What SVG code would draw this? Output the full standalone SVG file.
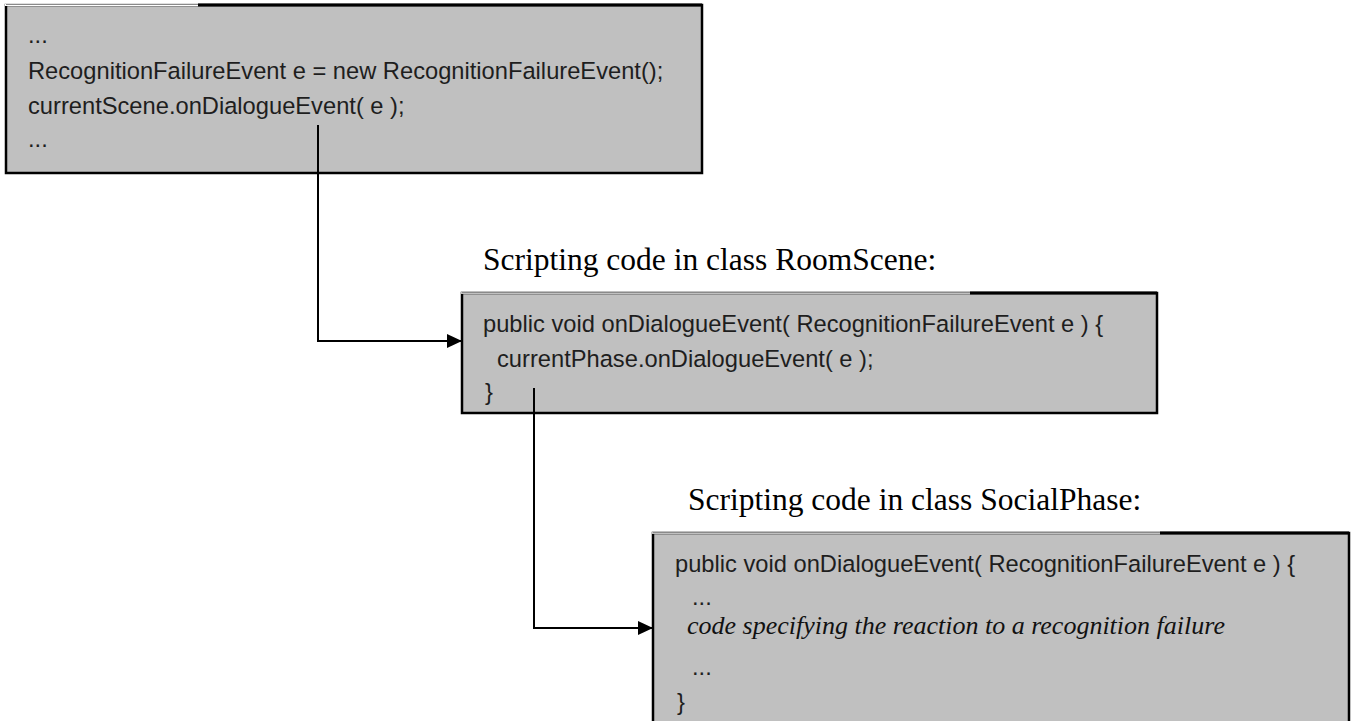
<svg xmlns="http://www.w3.org/2000/svg" width="1351" height="721" viewBox="0 0 1351 721">
  <style>
    .box { fill: #c0c0c0; stroke: #000; stroke-width: 2.5; }
    .edge-thin { stroke: #8a8a8a; stroke-width: 1; }
    .code { font-family: "Liberation Sans", Arial, sans-serif; font-size: 23.7px; fill: #1e1e1e; }
    .note { font-family: "Liberation Serif", "Times New Roman", serif; font-size: 26px; font-style: italic; fill: #111; }
    .title { font-family: "Liberation Serif", "Times New Roman", serif; font-size: 31.5px; fill: #000; }
    .wire { fill: none; stroke: #000; stroke-width: 2; }
  </style>
  <defs>
    <marker id="head" viewBox="0 0 15 14" refX="15" refY="7" markerWidth="15" markerHeight="14" markerUnits="userSpaceOnUse" orient="auto">
      <path d="M0,0 L15,7 L0,14 Z" fill="#000"/>
    </marker>
  </defs>

  <rect width="1351" height="721" fill="#fff"/>

  <!-- caller code -->
  <g id="caller">
    <rect class="box" x="6" y="5" width="696" height="168"/>
    <line x1="198" y1="5" x2="702" y2="5" stroke="#000" stroke-width="3"/>
    <rect x="5" y="3.5" width="193" height="2.5" fill="#fff"/>
    <line class="edge-thin" x1="6" y1="4.5" x2="198" y2="4.5"/>
    <text class="code" x="28" y="43">...</text>
    <text class="code" x="28" y="79">RecognitionFailureEvent e = new RecognitionFailureEvent();</text>
    <text class="code" x="28" y="114">currentScene.onDialogueEvent( e );</text>
    <text class="code" x="28" y="147">...</text>
  </g>

  <!-- RoomScene handler -->
  <g id="room-scene">
    <text class="title" x="483" y="270">Scripting code in class RoomScene:</text>
    <rect class="box" x="462" y="293" width="695" height="120"/>
    <line x1="970" y1="293" x2="1157" y2="293" stroke="#000" stroke-width="3"/>
    <rect x="461" y="291.5" width="509" height="2.5" fill="#c0c0c0"/>
    <line class="edge-thin" x1="462" y1="292.5" x2="970" y2="292.5"/>
    <text class="code" x="483" y="332">public void onDialogueEvent( RecognitionFailureEvent e ) {</text>
    <text class="code" x="497" y="367">currentPhase.onDialogueEvent( e );</text>
    <text class="code" x="485" y="400">}</text>
  </g>

  <!-- SocialPhase handler -->
  <g id="social-phase">
    <text class="title" x="688" y="510">Scripting code in class SocialPhase:</text>
    <rect class="box" x="653" y="533" width="696" height="200"/>
    <line x1="1160" y1="533" x2="1349" y2="533" stroke="#000" stroke-width="3"/>
    <rect x="652" y="531.5" width="508" height="2.5" fill="#c0c0c0"/>
    <line class="edge-thin" x1="653" y1="532.5" x2="1160" y2="532.5"/>
    <text class="code" x="675" y="572">public void onDialogueEvent( RecognitionFailureEvent e ) {</text>
    <text class="code" x="692" y="605">...</text>
    <text class="note" x="687" y="634">code specifying the reaction to a recognition failure</text>
    <text class="code" x="692" y="675">...</text>
    <text class="code" x="677" y="710">}</text>
  </g>

  <!-- calls -->
  <g id="connectors">
    <path class="wire" d="M318,125 V341 H462" marker-end="url(#head)"/>
    <path class="wire" d="M534,388 V628 H653" marker-end="url(#head)"/>
  </g>
</svg>
